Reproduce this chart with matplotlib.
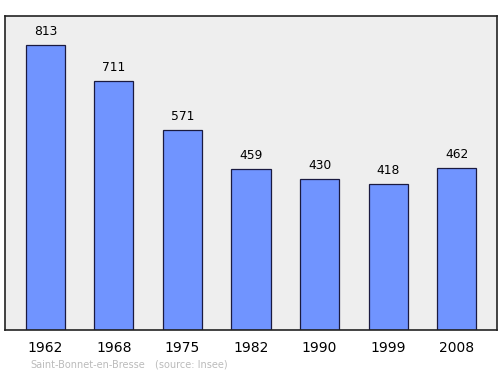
import matplotlib
matplotlib.use("Agg")
import matplotlib.pyplot as plt

# population data
annees = ['1962', '1968', '1975', '1982', '1990', '1999', '2008']
population = [813, 711, 571, 459, 430, 418, 462]

fig = plt.figure(figsize=(5, 3.74), dpi=100)
ax = fig.add_axes([0.01, 0.1176, 0.984, 0.8396])
ax.set_facecolor('#eeeeee')

pos = range(len(annees))
ax.bar(pos, population, width=0.57, color='#7094ff', edgecolor='#1a1a40', linewidth=0.9)

for x, v in zip(pos, population):
    ax.text(x, v + 20, str(v), ha='center', va='bottom', fontsize=8.8)

ax.set_xlim(-0.59, len(annees) - 0.41)
ax.set_ylim(0, 896)
ax.set_yticks([])
ax.set_xticks(list(pos))
ax.set_xticklabels(annees, fontsize=10)
ax.tick_params(axis='x', length=0, pad=8)
for s in ax.spines.values():
    s.set_linewidth(1.2)
    s.set_color('#222222')

fig.text(0.06, 0.017, 'Saint-Bonnet-en-Bresse', fontsize=7, color='#bbbbbb')
fig.text(0.31, 0.017, '(source: Insee)', fontsize=7, color='#bbbbbb')

fig.savefig('out.png', dpi=100)
